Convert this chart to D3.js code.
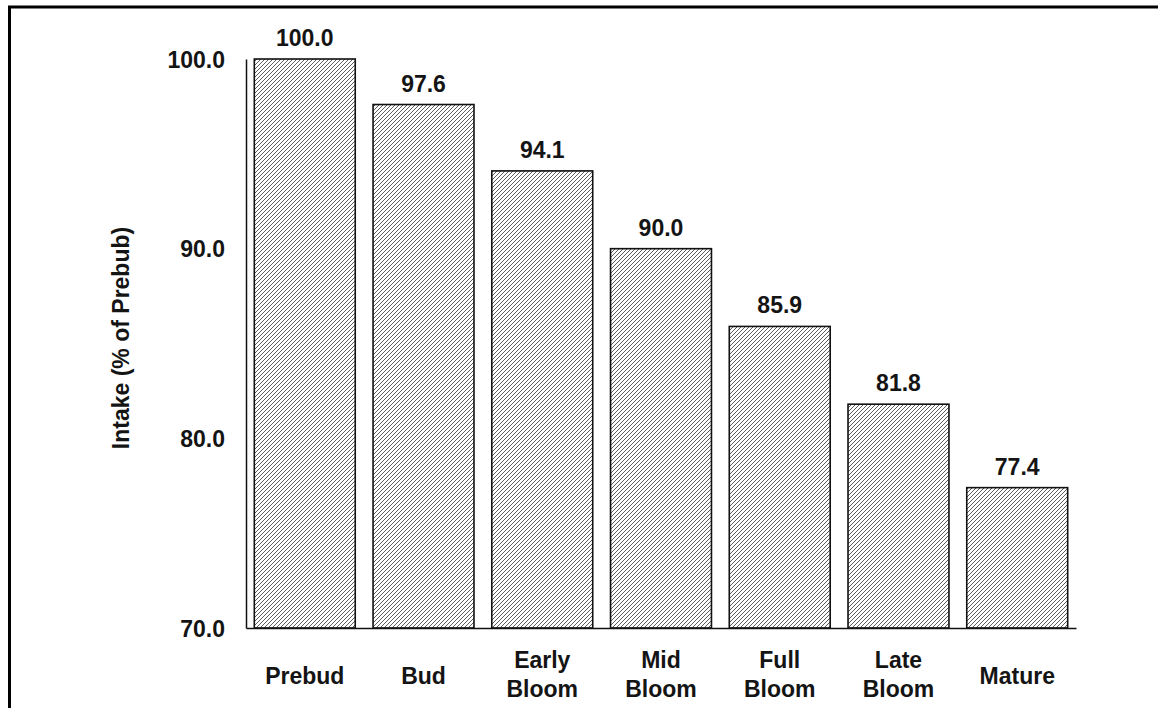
<!DOCTYPE html>
<html>
<head>
<meta charset="utf-8">
<script src="https://cdn.jsdelivr.net/npm/d3@7"></script>
<style>
  html, body { margin: 0; padding: 0; background: #fff; }
  svg { display: block; }
  text { font-family: "Liberation Sans", Arial, Helvetica, sans-serif; font-weight: bold; fill: #141414; }
</style>
</head>
<body>
<script>
const categories = [["Prebud"], ["Bud"], ["Early", "Bloom"], ["Mid", "Bloom"], ["Full", "Bloom"], ["Late", "Bloom"], ["Mature"]];
const values = [100.0, 97.6, 94.1, 90.0, 85.9, 81.8, 77.4];
const yTicks = [70, 80, 90, 100];
const yTitle = "Intake (% of Prebub)";

const W = 1158, H = 708;
const FS = 23;
const svg = d3.select("body").append("svg").attr("width", W).attr("height", H);

const defs = svg.append("defs");
const pat = defs.append("pattern").attr("id", "hatch")
  .attr("patternUnits", "userSpaceOnUse").attr("width", 4).attr("height", 4);
pat.append("rect").attr("width", 4).attr("height", 4).attr("fill", "#fff");
pat.append("path").attr("d", "M-1,1 l2,-2 M0,4 l4,-4 M3,5 l2,-2")
  .attr("stroke", "#4a4a4a").attr("stroke-width", 0.9);

// frame
svg.append("path").attr("d", `M9.5,${H} L9.5,7 L${W},7`)
  .attr("fill", "none").attr("stroke", "#000").attr("stroke-width", 3);

const keys = categories.map(c => c.join(" "));
const x = d3.scaleBand().domain(keys).range([246, 1076]).paddingInner(0.15).paddingOuter(0.07);
const y = d3.scaleLinear().domain([70, 100]).range([628, 59]);

// bars
svg.append("g").selectAll("rect").data(values).join("rect")
  .attr("x", (d, i) => x(keys[i]))
  .attr("y", d => y(d))
  .attr("width", x.bandwidth())
  .attr("height", d => y(70) - y(d))
  .attr("fill", "url(#hatch)")
  .attr("stroke", "#111").attr("stroke-width", 1.6);

// axes lines
const yAxis = d3.axisLeft(y).tickValues(yTicks).tickSize(0).tickPadding(21).tickFormat(d3.format(".1f"));
const gy = svg.append("g").attr("transform", "translate(246,0)").call(yAxis);
gy.select(".domain").attr("stroke", "#111").attr("stroke-width", 1.5);
gy.selectAll("text").attr("font-size", FS).attr("fill", "#141414")
  .attr("font-family", "Liberation Sans, Arial, sans-serif").attr("font-weight", "bold").attr("dy", "0.36em");

const xAxis = d3.axisBottom(x).tickSize(0).tickFormat("");
const gx = svg.append("g").attr("transform", "translate(0,628)").call(xAxis);
gx.select(".domain").attr("stroke", "#111").attr("stroke-width", 1.5);

// value labels
svg.append("g").selectAll("text").data(values).join("text")
  .attr("x", (d, i) => x(keys[i]) + x.bandwidth() / 2)
  .attr("y", d => y(d) - 13)
  .attr("text-anchor", "middle").attr("font-size", FS)
  .text(d => d.toFixed(1));

// category labels
const cl = svg.append("g").selectAll("text").data(categories).join("text")
  .attr("text-anchor", "middle").attr("font-size", FS)
  .attr("x", (d, i) => x(keys[i]) + x.bandwidth() / 2)
  .attr("y", d => d.length === 1 ? 684 : 668);
cl.selectAll("tspan").data(d => d).join("tspan")
  .attr("x", function () { return d3.select(this.parentNode).attr("x"); })
  .attr("dy", (d, i) => i === 0 ? 0 : 29)
  .text(d => d);

// y title
svg.append("text")
  .attr("transform", "translate(129,338) rotate(-90)")
  .attr("text-anchor", "middle").attr("font-size", FS)
  .text(yTitle);
</script>
</body>
</html>
